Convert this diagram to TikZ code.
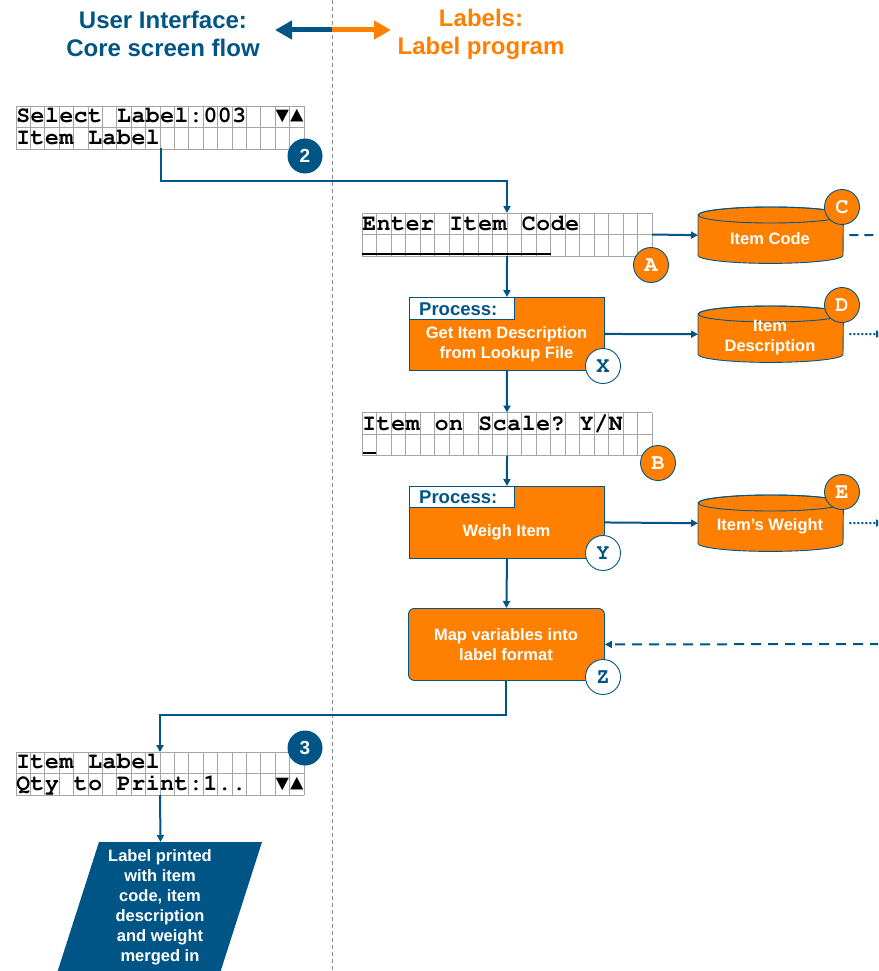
\documentclass[tikz,border=0pt]{standalone}
\usepackage[T1,TU]{fontenc}
\usepackage{fontspec}
\setmainfont{Liberation Sans}
\newfontfamily\trifont{Liberation Mono}
\newcommand\courbold{\fontencoding{T1}\fontfamily{pcr}\fontseries{b}\fontshape{n}\selectfont}
\newcommand\tri{\trifont\bfseries\fontsize{22.5}{23}\selectfont}
\usetikzlibrary{arrows.meta}
\definecolor{ublue}{RGB}{0,85,135}
\definecolor{uorange}{RGB}{255,128,0}
\definecolor{gridgray}{RGB}{165,165,165}
\definecolor{divgray}{RGB}{140,140,140}

\tikzset{
  conn/.style={draw=ublue, line width=2pt, -{Triangle[length=7pt,width=7pt]}},
  gridline/.style={draw=gridgray, line width=0.9pt},
  lcdch/.style={font=\fontsize{23}{23}\courbold, inner sep=0pt, anchor=base},
  badgeO/.style={circle, fill=uorange, draw=ublue, line width=0.9pt, minimum size=35pt, inner sep=0pt, text=white, font=\fontsize{22}{22}\courbold},
  badgeW/.style={circle, fill=white, draw=ublue, line width=0.9pt, minimum size=35pt, inner sep=0pt, text=ublue, font=\fontsize{22}{22}\courbold},
  badgeB/.style={circle, fill=ublue, minimum size=35pt, inner sep=0pt, text=white, font=\bfseries\fontsize{19}{19}\selectfont},
  procbox/.style={draw=ublue, line width=0.9pt, fill=uorange, inner sep=0pt, anchor=north west},
  tabbox/.style={draw=ublue, line width=0.9pt, fill=white, inner sep=0pt, anchor=north west, minimum width=105pt, minimum height=22pt},
  tabtext/.style={text=ublue, font=\bfseries\fontsize{18.5}{20}\selectfont, anchor=base west, inner sep=0pt},
  boxtext/.style={text=white, font=\bfseries\fontsize{16.5}{20}\selectfont, align=center, inner sep=0pt},
  cylbox/.style={minimum width=145pt, minimum height=56pt, anchor=north west, inner sep=0pt},
  cylshape/.style={fill=uorange, draw=ublue, line width=0.9pt},
  headtext/.style={font=\bfseries\fontsize{24}{28}\selectfont, align=center, inner sep=0pt},
  gridbox/.style={minimum height=43pt, anchor=north west, inner sep=0pt, outer sep=0pt}
}

% grid: name, x0, ytop, cell width
\newcommand\lcdgrid[4]{%
  \node[gridbox, minimum width=20*#4 pt] (#1) at (#2,#3) {};
  \foreach \k in {0,...,20} \draw[gridline] (#2+\k*#4,#3) -- (#2+\k*#4,#3+43);
  \foreach \k in {0,21.5,43} \draw[gridline] (#2,#3+\k) -- (#2+20*#4,#3+\k);
}
% row: prefix, x0, baseline, cell width, list
\newcommand\lcdrow[5]{%
  \foreach \lch [count=\k] in {#5} \node[lcdch] (#1\k) at (#2+\k*#4-#4/2,#3) {\lch};
}
% cylinder drawn on a named box
\newcommand\cylinderon[1]{%
  \path[cylshape] ([yshift=-8pt]#1.north west) -- ([yshift=8pt]#1.south west)
    arc[start angle=180, end angle=360, x radius=72.5pt, y radius=8pt]
    -- ([yshift=-8pt]#1.north east)
    arc[start angle=0, end angle=180, x radius=72.5pt, y radius=8pt] -- cycle;
  \draw[ublue, line width=0.9pt] ([yshift=-8pt]#1.north) ellipse[x radius=72.5pt, y radius=8pt];
}

\begin{document}
\begin{tikzpicture}[x=1pt, y=-1pt]
\clip (0,0) rectangle (878,971);
\fill[white] (0,0) rectangle (878,971);

% divider
\draw[divgray, line width=0.8pt, dash pattern=on 4pt off 3pt] (332,0) -- (332,971);

% header
\node[headtext, text=ublue] (hUI) at (163,34) {User Interface:\\Core screen flow};
\node[headtext, text=uorange] (hLab) at (481,34) {Labels:\\Label program};
\coordinate (hmid) at (332,30);
\coordinate (hleft) at (275,30);
\coordinate (hright) at (391,30);
\draw[ublue, line width=5pt, -{Triangle[length=17pt,width=18pt]}] (hmid) -- (hleft);
\draw[uorange, line width=5pt, -{Triangle[length=17pt,width=18pt]}] (hmid) -- (hright);

% grid 1
\lcdgrid{g1}{16}{106}{14.4}
\lcdrow{g1a}{16}{122.5}{14.4}{S,e,l,e,c,t,{},L,a,b,e,l,:,0,0,3,{},{},{\tri ▼},{\tri ▲}}
\lcdrow{g1b}{16}{144.5}{14.4}{I,t,e,m,{},L,a,b,e,l}
\node[badgeB] (b2) at (305,156) {2};

% grid 2
\lcdgrid{g2}{362}{213}{14.5}
\lcdrow{g2a}{362}{230.5}{14.5}{E,n,t,e,r,{},I,t,e,m,{},C,o,d,e}
\draw[black, line width=2.5pt] ([yshift=2pt]g2.south west) -- ++(188.5,0);
\node[badgeO] (bA) at (651,265) {A};

% cylinder C
\node[cylbox] (cylC) at (698,207) {};
\cylinderon{cylC}
\node[boxtext] (tC) at (770,239) {Item Code};
\node[badgeO] (bC) at (842,207) {C};

% process 1
\node[procbox, minimum width=195pt, minimum height=73pt] (p1) at (409,297) {};
\node[tabbox] (p1tab) at (409,297) {};
\node[tabtext] (p1lab) at (419,315) {Process:};
\node[boxtext] (p1t) at (506.5,344.5) {Get Item Description\\from Lookup File};
\node[badgeW] (bX) at (603,366) {X};

% cylinder D
\node[cylbox] (cylD) at (698,306) {};
\cylinderon{cylD}
\node[boxtext] (tD) at (770,338) {Item\\Description};
\node[badgeO] (bD) at (842,305) {D};

% grid 3
\lcdgrid{g3}{362}{412.5}{14.5}
\lcdrow{g3a}{362}{430}{14.5}{I,t,e,m,{},o,n,{},S,c,a,l,e,?,{},Y,/,N}
\draw[black, line width=2pt] ([xshift=1pt,yshift=3pt]g3.south west) -- ++(13,0);
\node[badgeO] (bB) at (658,463) {B};

% process 2
\node[procbox, minimum width=195pt, minimum height=72pt] (p2) at (409,486) {};
\node[tabbox, minimum height=21pt] (p2tab) at (409,486) {};
\node[tabtext] (p2lab) at (419,503) {Process:};
\node[boxtext] (p2t) at (506.5,532) {Weigh Item};
\node[badgeW] (bY) at (603,553) {Y};

% cylinder E
\node[cylbox] (cylE) at (698,495) {};
\cylinderon{cylE}
\node[boxtext] (tE) at (770,526) {Item’s Weight};
\node[badgeO] (bE) at (842,492) {E};

% map box
\node[procbox, rounded corners=6pt, minimum width=196pt, minimum height=72pt] (map) at (408,608) {};
\node[boxtext] (mapt) at (506,645) {Map variables into\\label format};
\node[badgeW] (bZ) at (603,677) {Z};

% grid 4
\lcdgrid{g4}{16}{752}{14.4}
\lcdrow{g4a}{16}{768.5}{14.4}{I,t,e,m,{},L,a,b,e,l}
\lcdrow{g4b}{16}{790.5}{14.4}{Q,t,y,{},t,o,{},P,r,i,n,t,:,1,.,.,{},{},{\tri ▼},{\tri ▲}}
\node[badgeB] (b3) at (305,748) {3};

% output parallelogram
\fill[ublue] (99,842) -- (262,842) -- (211.4,1000) -- (48.4,1000) -- cycle;
\coordinate (paraIn) at (160.5,842);
\node[boxtext] (para) at (160,907.5) {Label printed\\with item\\code, item\\description\\and weight\\merged in};

% connectors
\coordinate (g1out) at (160.5,148);
\coordinate (j1) at (0,181);
\coordinate (j2) at (0,715);
\draw[conn] (g1out) -- (g1out |- j1) -| (g2.north);
\draw[conn] (g2.south) -- (p1.north);
\draw[conn] (g2.east) -- (cylC.west);
\draw[conn] (p1.east) -- (cylD.west);
\draw[conn] (p1.south) -- (g3.north);
\draw[conn] (g3.south) -- (p2.north);
\draw[conn] (p2.east) -- (cylE.west);
\draw[conn] (p2.south) -- (map.north);
\draw[conn] (map.south) -- (map.south |- j2) -| (g4.north);
\draw[conn] (g4.south) -- (paraIn);

% off-page links
\coordinate (rC) at (880,235);
\coordinate (rD) at (883,334);
\coordinate (rE) at (883,523);
\coordinate (rZ) at (880,644);
\draw[ublue, line width=2pt, dash pattern=on 9pt off 6pt] ([xshift=6pt]cylC.east) -- (rC);
\draw[ublue, line width=2pt, dash pattern=on 2pt off 2pt, -{Triangle[length=7pt,width=7pt]}] ([xshift=6pt]cylD.east) -- (rD);
\draw[ublue, line width=2pt, dash pattern=on 2pt off 2pt, -{Triangle[length=7pt,width=7pt]}] ([xshift=6pt]cylE.east) -- (rE);
\draw[ublue, line width=2pt, dash pattern=on 10pt off 7pt, -{Triangle[length=7pt,width=7pt]}] (rZ) -- (map.east);
\end{tikzpicture}
\end{document}
